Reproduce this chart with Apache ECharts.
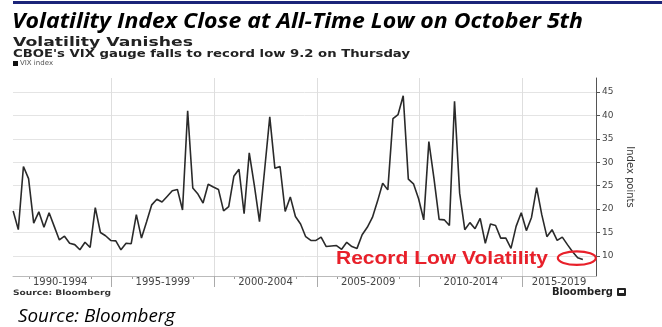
<!DOCTYPE html>
<html>
<head>
<meta charset="utf-8">
<script src="https://cdn.jsdelivr.net/npm/echarts@6/dist/echarts.min.js"></script>
<style>
  html, body { margin: 0; padding: 0; background: #fff; }
  #chart { width: 662px; height: 327px; }
</style>
</head>
<body>
<div id="chart"></div>
<script>
// Quarter-end months, March 1990 through December 2017
const quarterEnds = [];
for (let y = 1990; y <= 2017; y++) {
  for (const m of [3, 6, 9, 12]) quarterEnds.push(y + '-' + String(m).padStart(2, '0'));
}

// CBOE VIX close at each quarter end
const vixClose = [
  19.6, 15.6, 29.1, 26.5, 17.0, 19.4, 16.1, 19.2, 16.3, 13.4,
  14.2, 12.7, 12.4, 11.3, 12.9, 11.8, 20.3, 15.0, 14.3, 13.3,
  13.2, 11.3, 12.7, 12.6, 18.8, 13.8, 17.3, 20.9, 22.1, 21.5,
  22.7, 23.9, 24.2, 19.8, 41.0, 24.5, 23.2, 21.3, 25.3, 24.7,
  24.2, 19.6, 20.5, 27.0, 28.5, 19.0, 32.0, 25.0, 17.3, 28.4,
  39.7, 28.7, 29.1, 19.5, 22.6, 18.4, 16.8, 14.1, 13.3, 13.3,
  14.0, 12.0, 12.1, 12.2, 11.4, 12.9, 12.0, 11.6, 14.5, 16.1,
  18.2, 21.7, 25.5, 24.1, 39.3, 40.2, 44.2, 26.4, 25.4, 22.2,
  17.7, 34.4, 26.5, 17.8, 17.7, 16.5, 43.0, 23.4, 15.6, 17.1,
  15.8, 18.0, 12.7, 16.8, 16.5, 13.8, 13.8, 11.6, 16.3, 19.2,
  15.4, 18.2, 24.6, 18.8, 14.1, 15.6, 13.3, 14.0, 12.4, 10.9,
  9.6, 9.2
];

// Five-year period labels along the bottom axis
const periodLabels = ['1990-1994', '1995-1999', '2000-2004', '2005-2009', '2010-2014', '2015-2019'];
const periodMid = [1992.5, 1997.5, 2002.5, 2007.5, 2012.5, 2016.8];
const periodBounds = [1995, 2000, 2005, 2010, 2015];
const yearTicks = [];
for (let y = 1991; y <= 2018; y++) if (y % 5 !== 0) yearTicks.push(y);

// Index-point ticks on the right axis
const yTicks = [10, 15, 20, 25, 30, 35, 40, 45];

const xMin = 1990.2, xMax = 2018.6;

function decimalYear(q) {
  const [y, m] = q.split('-').map(Number);
  return y + (m - 0.5) / 12;
}

const chart = echarts.init(document.getElementById('chart'), null, { renderer: 'canvas' });

chart.setOption({
  animation: false,
  backgroundColor: '#fff',
  legend: {
    left: 13, top: 60, padding: 0,
    itemWidth: 5, itemHeight: 5, itemGap: 4,
    data: [{ name: 'VIX index', icon: 'rect', itemStyle: { color: '#111' } }],
    textStyle: { fontSize: 7, color: '#555', fontFamily: 'DejaVu Sans', padding: [0, 0, 0, -3] }
  },
  grid: { left: 13, right: 66, top: 78, bottom: 51, containLabel: false },
  xAxis: [{
    type: 'value', min: xMin, max: xMax, position: 'bottom', z: 1,
    axisLine: { show: true, lineStyle: { color: '#bbb', width: 1 } },
    axisTick: { show: true, length: 11, customValues: periodBounds, lineStyle: { color: '#aaa' } },
    axisLabel: {
      customValues: periodMid,
      formatter: v => periodLabels[periodMid.findIndex(p => Math.abs(p - v) < 1e-6)] || '',
      fontSize: 10, color: '#444', margin: 1, fontFamily: 'DejaVu Sans',
      backgroundColor: '#fff', padding: [0, 2]
    },
    splitLine: { show: true, lineStyle: { color: '#dedede', width: 1 } }
  }, {
    type: 'value', min: xMin, max: xMax, position: 'bottom', z: 0,
    axisLine: { show: false },
    axisTick: { show: true, length: 3, customValues: yearTicks, lineStyle: { color: '#999' } },
    axisLabel: { show: false },
    splitLine: { show: false }
  }],
  yAxis: {
    type: 'value', position: 'right', min: 5.7, max: 48,
    name: 'Index points', nameLocation: 'middle', nameRotate: -90, nameGap: 26,
    nameTextStyle: { fontSize: 10, color: '#333', fontFamily: 'DejaVu Sans' },
    axisLine: { show: true, lineStyle: { color: '#555', width: 1 } },
    axisTick: { show: true, length: 4, customValues: yTicks, lineStyle: { color: '#555' } },
    axisLabel: { customValues: yTicks, fontSize: 9, color: '#444', margin: 6, fontFamily: 'DejaVu Sans' },
    splitLine: { show: true, lineStyle: { color: '#e4e4e4', width: 1 } }
  },
  series: [{
    name: 'VIX index', type: 'line', xAxisIndex: 0, yAxisIndex: 0,
    data: quarterEnds.map((q, i) => [decimalYear(q), vixClose[i]]),
    showSymbol: false, symbol: 'none',
    color: '#2a2a2a',
    itemStyle: { color: '#2a2a2a' },
    lineStyle: { color: '#2a2a2a', width: 1.6 }
  }]
});

// Text helpers: stretch each text horizontally to its column width
const measureCtx = document.createElement('canvas').getContext('2d');
function fitScale(text, font, width) {
  measureCtx.font = font;
  return width / measureCtx.measureText(text).width;
}
function fittedText(text, font, x, yMid, width, fill) {
  return {
    type: 'text', x: x, y: yMid, scaleX: fitScale(text, font, width), z: 10,
    style: { text: text, font: font, fill: fill, verticalAlign: 'middle', align: 'left' }
  };
}

// Ring around the final close
const lastIdx = vixClose.length - 1;
const lastPt = chart.convertToPixel({ seriesIndex: 0 }, [decimalYear(quarterEnds[lastIdx]), vixClose[lastIdx]]);

chart.setOption({
  graphic: [
    { type: 'rect', shape: { x: 13, y: 1, width: 649, height: 3 }, style: { fill: '#1b2479' }, z: 10 },
    fittedText('Volatility Index Close at All-Time Low on October 5th', 'italic bold 22px "Open Sans"', 12, 22, 571, '#000'),
    fittedText('Volatility Vanishes', 'bold 13px "DejaVu Sans"', 13, 43, 180, '#222'),
    fittedText("CBOE's VIX gauge falls to record low 9.2 on Thursday", 'bold 10.5px "DejaVu Sans"', 13, 54, 397, '#222'),
    fittedText('Source: Bloomberg', 'bold 7.5px "DejaVu Sans"', 13, 293.5, 98, '#333'),
    fittedText('Bloomberg', 'bold 10px "DejaVu Sans"', 552, 292, 61, '#222'),
    { type: 'rect', shape: { x: 617, y: 288, width: 9, height: 8, r: 1 }, style: { fill: '#222' }, z: 10 },
    { type: 'rect', shape: { x: 619, y: 290, width: 5, height: 3 }, style: { fill: '#fff' }, z: 11 },
    fittedText('Source: Bloomberg', 'italic 19px "Open Sans"', 18, 317, 157, '#000'),
    fittedText('Record Low Volatility', 'bold 19px "Liberation Sans"', 336, 258.5, 212, '#e8202a'),
    {
      type: 'ellipse', z: 10,
      shape: { cx: lastPt[0] - 6, cy: lastPt[1] - 1.5, rx: 19, ry: 6.8 },
      style: { fill: 'none', stroke: '#e8202a', lineWidth: 2.2 }
    }
  ]
});
</script>
</body>
</html>
